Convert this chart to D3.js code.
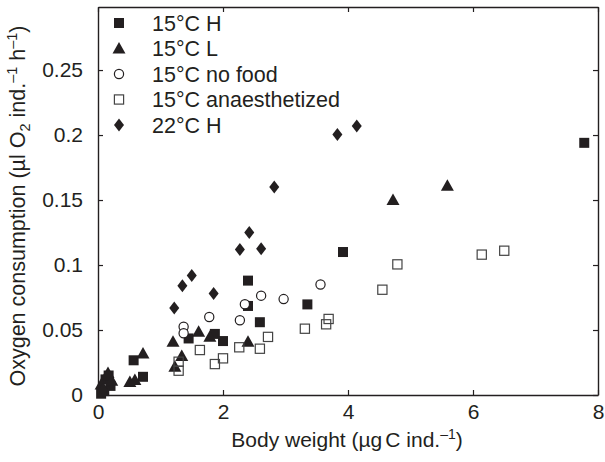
<!DOCTYPE html>
<html><head><meta charset="utf-8">
<script src="https://cdn.jsdelivr.net/npm/d3@7"></script>
<style>body{margin:0;background:#fff}svg{display:block}text{font-family:"Liberation Sans",Arial,Helvetica,sans-serif;fill:#231f20}</style>
</head><body>
<svg id="c" width="605" height="462"></svg>
<script>
// Data (x: body weight µgC ind.-1, y: oxygen consumption µl O2 ind.-1 h-1)
const seriesNames = ["15°C H","15°C L","15°C no food","15°C anaesthetized","22°C H"];
const h15 = [[7.78,0.194],[3.92,0.110],[2.40,0.088],[2.40,0.0685],[3.35,0.0697],[2.59,0.056],[1.45,0.0435],[1.87,0.047],[2.00,0.0415],[0.57,0.0267],[0.72,0.014],[0.12,0.012],[0.20,0.007],[0.10,0.003],[0.05,0.001],[0.17,0.015]];
const l15 = [[5.59,0.161],[4.72,0.150],[2.40,0.041],[1.79,0.0449],[1.61,0.0487],[1.20,0.041],[1.34,0.030],[1.23,0.0218],[0.72,0.032],[0.51,0.010],[0.59,0.0115],[0.16,0.017],[0.05,0.008],[0.22,0.011]];
const noFood15 = [[3.56,0.085],[2.61,0.0764],[2.97,0.0738],[2.35,0.0698],[1.78,0.060],[2.27,0.0575],[1.37,0.0525],[1.37,0.0475]];
const anaes15 = [[6.50,0.111],[6.14,0.108],[4.79,0.1005],[4.55,0.081],[3.69,0.0585],[3.65,0.0544],[3.31,0.051],[2.72,0.0447],[2.26,0.0367],[2.59,0.0356],[2.00,0.0282],[1.87,0.0238],[1.63,0.0346],[1.29,0.0256],[1.29,0.0187]];
const h22 = [[4.14,0.207],[3.83,0.2005],[2.82,0.160],[2.42,0.125],[2.27,0.112],[2.61,0.1125],[1.50,0.092],[1.35,0.084],[1.85,0.078],[1.22,0.067],[0.08,0.004]];
const xTicks = [0,2,4,6,8];
const yTicks = [0,0.05,0.1,0.15,0.2,0.25];
const yTickLabels = ["0","0.05","0.1","0.15","0.2","0.25"];

const svg = d3.select("#c");
const L=98,R=598,T=7,B=395;
const x = d3.scaleLinear().domain([0,8]).range([L,R]);
const y = d3.scaleLinear().domain([0,0.2985]).range([B,T]);
const ink="#231f20";
const fs=21, lfs=21.5;

const markers = {
  sq: (g)=>g.append("rect").attr("x",-5).attr("y",-5).attr("width",10).attr("height",10).attr("fill",ink),
  tri: (g)=>g.append("path").attr("d","M0,-6.5L6.5,5L-6.5,5Z").attr("fill",ink),
  circ: (g)=>g.append("circle").attr("r",4.6).attr("fill","#fff").attr("stroke",ink).attr("stroke-width",1.2),
  osq: (g)=>g.append("rect").attr("x",-4.6).attr("y",-4.6).attr("width",9.2).attr("height",9.2).attr("fill","none").attr("stroke","#444").attr("stroke-width",1.2),
  dia: (g)=>g.append("path").attr("d","M0,-6.5L5,0L0,6.5L-5,0Z").attr("fill",ink)
};
const series = [
  {name:seriesNames[0], data:h15, m:"sq"},
  {name:seriesNames[1], data:l15, m:"tri"},
  {name:seriesNames[2], data:noFood15, m:"circ"},
  {name:seriesNames[3], data:anaes15, m:"osq"},
  {name:seriesNames[4], data:h22, m:"dia"}
];

const xAxB = d3.axisBottom(x).tickValues(xTicks).tickSizeInner(-5).tickSizeOuter(0).tickPadding(9).tickFormat(d3.format("d"));
const xAxT = d3.axisTop(x).tickValues(xTicks).tickSizeInner(-5).tickSizeOuter(0).tickFormat("");
const yAxL = d3.axisLeft(y).tickValues(yTicks).tickSizeInner(-5).tickSizeOuter(0).tickPadding(15).tickFormat((d,i)=>yTickLabels[i]);
const yAxR = d3.axisRight(y).tickValues(yTicks).tickSizeInner(-5).tickSizeOuter(0).tickFormat("");
function style(g){g.select(".domain").attr("stroke",ink).attr("stroke-width",1.4);g.selectAll(".tick line").attr("stroke",ink).attr("stroke-width",1.2);g.selectAll("text").attr("font-size",fs).attr("fill",ink).attr("font-family","Liberation Sans, Arial, sans-serif");}
svg.append("g").attr("transform",`translate(0,${B})`).call(xAxB).call(style);
svg.append("g").attr("transform",`translate(0,${T})`).call(xAxT).call(style);
svg.append("g").attr("transform",`translate(${L},0)`).call(yAxL).call(style);
svg.append("g").attr("transform",`translate(${R},0)`).call(yAxR).call(style);

series.forEach(s=>{
  s.data.forEach(p=>{
    const g=svg.append("g").attr("transform",`translate(${x(p[0])},${y(p[1])})`);
    markers[s.m](g);
  });
});

series.forEach((s,i)=>{
  const cy=23+i*25.5;
  const g=svg.append("g").attr("transform",`translate(119,${cy})`);
  markers[s.m](g);
  svg.append("text").attr("x",152).attr("y",cy).attr("dy","0.35em").attr("font-size",lfs).text(s.name);
});

const xt=svg.append("text").attr("x",(L+R)/2-1).attr("y",447).attr("text-anchor","middle").attr("font-size",fs);
xt.append("tspan").text("Body weight (µg");
xt.append("tspan").attr("dx",3).text("C ind.");
xt.append("tspan").attr("dy",-8).attr("font-size",14).text("–1");
xt.append("tspan").attr("dy",8).text(")");

const yt=svg.append("text").attr("transform",`translate(25,206) rotate(-90)`).attr("text-anchor","middle").attr("font-size",21.5);
yt.append("tspan").text("Oxygen consumption (µl O");
yt.append("tspan").attr("dy",5).attr("font-size",14.5).text("2");
yt.append("tspan").attr("dy",-5).text(" ind.");
yt.append("tspan").attr("dy",-8).attr("font-size",14.5).text("–1");
yt.append("tspan").attr("dy",8).text(" h");
yt.append("tspan").attr("dy",-8).attr("font-size",14.5).text("–1");
yt.append("tspan").attr("dy",8).text(")");
</script>
</body></html>
